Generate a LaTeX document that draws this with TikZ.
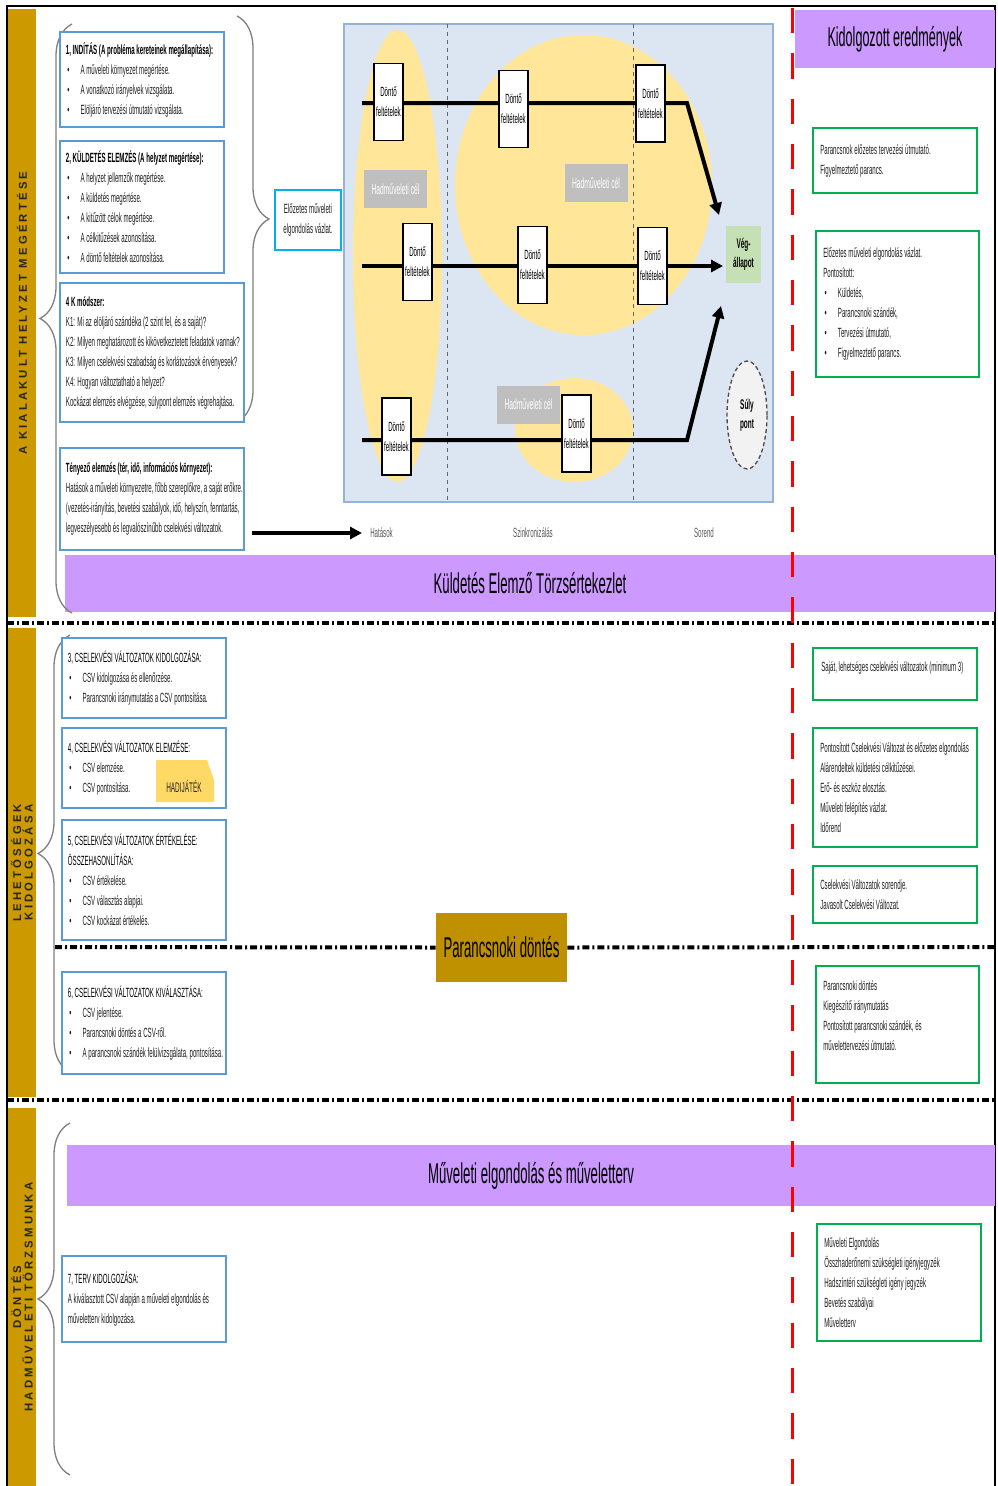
\documentclass[tikz,border=0pt]{standalone}
\usepackage{fontspec}
\setmainfont{Liberation Sans}
\newfontfamily\narrow[FakeStretch=0.46]{Liberation Sans}
\newfontfamily\barfont[LetterSpace=28]{Liberation Sans}
\usetikzlibrary{arrows.meta,shapes.geometric,decorations.pathreplacing}

\definecolor{barGold}{RGB}{204,153,0}
\definecolor{cmdGold}{RGB}{191,144,0}
\definecolor{bandLilac}{RGB}{204,153,255}
\definecolor{boxBlue}{RGB}{91,155,213}
\definecolor{boxGreen}{RGB}{0,176,80}
\definecolor{panelBlue}{RGB}{220,230,242}
\definecolor{panelEdge}{RGB}{149,179,215}
\definecolor{softYellow}{RGB}{255,230,153}
\definecolor{gameYellow}{RGB}{255,217,102}
\definecolor{endGreen}{RGB}{197,224,180}
\definecolor{aimGray}{RGB}{191,191,191}
\definecolor{draftCyan}{RGB}{0,176,240}

\newcommand{\bul}{\makebox[11pt][l]{\hspace{1pt}\textbullet}}

\begin{document}
\begin{tikzpicture}[x=0.75pt,y=0.75pt,yscale=-1,xscale=1,
  body/.style={font=\narrow\fontsize{10}{15}\selectfont, text=black!88, align=left, inner sep=0pt},
  leftbox/.style={draw=boxBlue, line width=1.5pt, fill=white, inner sep=0pt},
  rightbox/.style={draw=boxGreen, line width=1.5pt, fill=white, inner sep=0pt},
  band/.style={fill=bandLilac, inner sep=0pt, font=\narrow\fontsize{21.5}{25}\selectfont},
  sidebar/.style={fill=barGold, rotate=90, inner sep=0pt, align=center, text=black!85, font=\barfont\bfseries\fontsize{8.5}{7}\selectfont},
  sepline/.style={line width=3pt, dash pattern=on 5.25pt off 2.25pt on 1.5pt off 2.25pt},
  curly/.style={draw=black!50, line width=1pt, decorate, decoration={brace, amplitude=24pt}},
  zone/.style={ellipse, fill=softYellow, inner sep=0pt},
  aim/.style={fill=aimGray, minimum width=47.25pt, minimum height=28.5pt, inner sep=0pt, text=white, font=\narrow\fontsize{11}{12}\selectfont},
  donto/.style={draw, fill=white, line width=1.2pt, minimum width=21.75pt, minimum height=57.75pt, inner sep=0pt, align=center, font=\narrow\fontsize{10}{15}\selectfont},
  flow/.style={line width=3pt, -{Triangle[length=9pt,width=9pt]}},
  legend/.style={font=\narrow\fontsize{10}{12}\selectfont, text=black!65, inner sep=0pt}
]
\useasboundingbox (0,0) rectangle (997,1486);

%Shape: Side bars
\node[sidebar, minimum width=456pt, minimum height=21pt] (barSituation) at (22,313) {A KIALAKULT HELYZET MEGÉRTÉSE};
\node[sidebar, minimum width=351.75pt, minimum height=21pt] (barOptions) at (22,862.5) {LEHETŐSÉGEK\\KIDOLGOZÁSA};
\node[sidebar, minimum width=283.5pt, minimum height=21pt] (barDecision) at (22,1297) {DÖNTÉS\\HADMŰVELETI TÖRZSMUNKA};

%Straight Lines: frame
\draw[line width=1.5pt] (7,1486) -- (7,6) -- (995,6) -- (995,1486);

%Shape: Lilac bands
\node[band, minimum width=150pt, minimum height=43.5pt, font=\narrow\fontsize{20.5}{24}\selectfont] (results) at (895,39) {Kidolgozott eredmények};
\node[band, minimum width=697.5pt, minimum height=42.75pt] (meeting) at (530,583.5) {Küldetés Elemző Törzsértekezlet};
\node[band, minimum width=696pt, minimum height=45.75pt] (concept) at (531,1175.5) {Műveleti elgondolás és műveletterv};

%Shape: Panel
\node[draw=panelEdge, fill=panelBlue, line width=1.2pt, minimum width=321.75pt, minimum height=358.5pt, inner sep=0pt] (panel) at (558.5,263) {};
\node[zone, minimum width=66.75pt, minimum height=339pt] (zoneA) at (397.5,256) {};
\node[zone, minimum width=192.75pt, minimum height=225pt] (zoneB) at (583.5,185) {};
\node[zone, minimum width=88.5pt, minimum height=78pt] (zoneC) at (574,430) {};
\draw[black!60, dashed, line width=0.6pt] (447,24) -- (447,502);
\draw[black!60, dashed, line width=0.6pt] (633,24) -- (633,502);

% Text Node
\node[aim] (aimA) at (395.5,189) {Hadműveleti cél};
\node[aim] (aimB) at (596,183) {Hadműveleti cél};
\node[aim] (aimC) at (528.5,404.5) {Hadműveleti cél};

\node[fill=endGreen, minimum width=26.25pt, minimum height=42.75pt, inner sep=0pt, align=center, font=\narrow\bfseries\fontsize{10.5}{14}\selectfont] (endState) at (743.5,254.5) {Vég-\\állapot};

%Straight Lines
\coordinate (rowAs) at (362,103);
\coordinate (rowAk) at (687,103);
\coordinate (rowAe) at (719,215);
\coordinate (rowBs) at (362,266);
\coordinate (rowBe) at (723,266);
\coordinate (rowCs) at (362,440);
\coordinate (rowCk) at (687,440);
\coordinate (rowCe) at (721,306);
\draw[flow] (rowAs) -- (rowAk) -- (rowAe);
\draw[flow] (rowBs) -- (rowBe);
\draw[flow] (rowCs) -- (rowCk) -- (rowCe);

% Text Node
\node[donto] (dc11) at (388.5,102) {Döntő\\feltételek};
\node[donto] (dc12) at (513.5,109) {Döntő\\feltételek};
\node[donto] (dc13) at (650.5,103.5) {Döntő\\feltételek};
\node[donto] (dc21) at (417.5,262) {Döntő\\feltételek};
\node[donto] (dc22) at (532.5,265) {Döntő\\feltételek};
\node[donto] (dc23) at (652.5,266) {Döntő\\feltételek};
\node[donto] (dc31) at (396.5,436.5) {Döntő\\feltételek};
\node[donto] (dc32) at (576.5,433.5) {Döntő\\feltételek};

\node[ellipse, draw=black!70, densely dashed, line width=1pt, fill=black!5, minimum width=30pt, minimum height=81pt, inner sep=0pt, align=center, font=\narrow\bfseries\fontsize{10.5}{14}\selectfont] (weight) at (747,415) {Súly\\pont};

%Legend
\coordinate (legStart) at (252,533);
\node[legend, anchor=west] (effects) at (370,533) {Hatások};
\node[legend] (sync) at (533,533) {Szinkronizálás};
\node[legend] (order) at (704,533) {Sorend};
\draw[flow] (legStart) -- ([xshift=-6pt]effects.west);

%Shape: Draft box
\node[draw=draftCyan, line width=1.2pt, fill=white, minimum width=49.5pt, minimum height=45pt, inner sep=0pt, body, align=center] (draft) at (308,220) {Előzetes műveleti\\elgondolás vázlat.};

%Braces
\draw[curly] (72,613) -- (72,24);
\draw[curly] (237,16) -- (237,422);
\draw[curly] (70,1072) -- (70,635);
\draw[curly] (70,1475) -- (70,1123);

%Shape: Left boxes
\node[leftbox, minimum width=123pt, minimum height=71.25pt] (boxStart) at (142,79.5) {};
\node[body, anchor=west] (boxStartText) at ([xshift=5pt]boxStart.west) {\textcolor{black}{\textbf{1, INDÍTÁS (A probléma kereteinek megállapítása):}}\\
\bul A műveleti környezet megértése.\\
\bul A vonatkozó irányelvek vizsgálata.\\
\bul Elöljáró tervezési útmutató vizsgálata.};

\node[leftbox, minimum width=123pt, minimum height=99pt] (boxMission) at (142,207) {};
\node[body, anchor=west] (boxMissionText) at ([xshift=5pt]boxMission.west) {\textcolor{black}{\textbf{2, KÜLDETÉS ELEMZÉS (A helyzet megértése):}}\\
\bul A helyzet jellemzők megértése.\\
\bul A küldetés megértése.\\
\bul A kitűzött célok megértése.\\
\bul A célkitűzések azonosítása.\\
\bul A döntő feltételek azonosítása.};

\node[leftbox, minimum width=138pt, minimum height=104.25pt] (boxFourK) at (152,352.5) {};
\node[body, anchor=west] (boxFourKText) at ([xshift=5pt]boxFourK.west) {\textcolor{black}{\textbf{4 K módszer:}}\\
K1: Mi az elöljáró szándéka (2 szint fel, és a saját)?\\
K2: Milyen meghatározott és kikövetkeztetett feladatok vannak?\\
K3: Milyen cselekvési szabadság és korlátozások érvényesek?\\
K4: Hogyan változtatható a helyzet?\\
Kockázat elemzés elvégzése, súlypont elemzés végrehajtása.};

\node[leftbox, minimum width=138pt, minimum height=76.5pt] (boxFactor) at (152,499) {};
\node[body, anchor=west] (boxFactorText) at ([xshift=5pt]boxFactor.west) {\textcolor{black}{\textbf{Tényező elemzés (tér, idő, információs környezet):}}\\
Hatások a műveleti környezetre, főbb szereplőkre, a saját erőkre.\\
(vezetés-irányítás, bevetési szabályok, idő, helyszín, fenntartás,\\
legveszélyesebb és legvalószínűbb cselekvési változatok.};

\node[leftbox, minimum width=123pt, minimum height=60pt] (boxDevelop) at (144,678) {};
\node[body, anchor=west] (boxDevelopText) at ([xshift=5pt]boxDevelop.west) {\textcolor{black}{3, CSELEKVÉSI VÁLTOZATOK KIDOLGOZÁSA:}\\
\bul CSV kidolgozása és ellenőrzése.\\
\bul Parancsnoki iránymutatás a CSV pontosítása.};

\node[leftbox, minimum width=123pt, minimum height=60pt] (boxAnalyse) at (144,768) {};
\node[body, anchor=west] (boxAnalyseText) at ([xshift=5pt]boxAnalyse.west) {\textcolor{black}{4, CSELEKVÉSI VÁLTOZATOK ELEMZÉSE:}\\
\bul CSV elemzése.\\
\bul CSV pontosítása.};
\fill[gameYellow] (156,760) -- (207,760) -- (214,780) -- (214,802) -- (156,802) -- cycle;
\node[body, text=black!85, font=\narrow\fontsize{10.5}{12}\selectfont] (wargame) at (184,786) {HADIJÁTÉK};

\node[leftbox, minimum width=123pt, minimum height=90pt] (boxCompare) at (144,880) {};
\node[body, anchor=west] (boxCompareText) at ([xshift=5pt]boxCompare.west) {\textcolor{black}{5, CSELEKVÉSI VÁLTOZATOK ÉRTÉKELÉSE:}\\
\textcolor{black}{ÖSSZEHASONLÍTÁSA:}\\
\bul CSV értékelése.\\
\bul CSV választás alapjai.\\
\bul CSV kockázat értékelés.};

\node[leftbox, minimum width=123pt, minimum height=76.5pt] (boxSelect) at (144,1023) {};
\node[body, anchor=west] (boxSelectText) at ([xshift=5pt]boxSelect.west) {\textcolor{black}{6, CSELEKVÉSI VÁLTOZATOK KIVÁLASZTÁSA:}\\
\bul CSV jelentése.\\
\bul Parancsnoki döntés a CSV-ről.\\
\bul A parancsnoki szándék felülvizsgálata, pontosítása.};

\node[leftbox, minimum width=123pt, minimum height=64.5pt] (boxPlan) at (144,1299) {};
\node[body, anchor=west] (boxPlanText) at ([xshift=5pt]boxPlan.west) {\textcolor{black}{7, TERV KIDOLGOZÁSA:}\\
A kiválasztott CSV alapján a műveleti elgondolás és\\
műveletterv kidolgozása.};

%Shape: Right boxes
\node[rightbox, minimum width=123pt, minimum height=48.75pt] (outGuidance) at (895,160.5) {};
\node[body, anchor=west] (outGuidanceText) at ([xshift=6pt]outGuidance.west) {Parancsnok előzetes tervezési útmutató.\\
Figyelmeztető parancs.};

\node[rightbox, minimum width=122.25pt, minimum height=109.5pt] (outDraft) at (897.5,304) {};
\node[body, anchor=west] (outDraftText) at ([xshift=6pt]outDraft.west) {Előzetes műveleti elgondolás vázlat.\\
Pontosított:\\
\bul Küldetés,\\
\bul Parancsnoki szándék,\\
\bul Tervezési útmutató,\\
\bul Figyelmeztető parancs.};

\node[rightbox, minimum width=123pt, minimum height=39pt] (outOptions) at (895,674) {};
\node[body, anchor=west] (outOptionsText) at (821,668) {Saját, lehetséges cselekvési változatok (minimum 3)};

\node[rightbox, minimum width=123pt, minimum height=89.25pt] (outRefined) at (895,787.5) {};
\node[body, anchor=west] (outRefinedText) at ([xshift=6pt]outRefined.west) {Pontosított Cselekvési Változat és előzetes elgondolás\\
Alárendeltek küldetési célkitűzései.\\
Erő- és eszköz elosztás.\\
Műveleti felépítés vázlat.\\
Időrend};

\node[rightbox, minimum width=123pt, minimum height=42.75pt] (outRanking) at (895,894.5) {};
\node[body, anchor=west] (outRankingText) at ([xshift=6pt]outRanking.west) {Cselekvési Változatok sorendje.\\
Javasolt Cselekvési Változat.};

\node[rightbox, minimum width=122.25pt, minimum height=87.75pt] (outDecision) at (897.5,1024.5) {};
\node[body, anchor=west] (outDecisionText) at (823,1016) {Parancsnoki döntés\\
Kiegészítő iránymutatás\\
Pontosított parancsnoki szándék, és\\
művelettervezési útmutató.};

\node[rightbox, minimum width=123pt, minimum height=87.75pt] (outPlan) at (899,1282.5) {};
\node[body, anchor=west] (outPlanText) at ([xshift=6pt]outPlan.west) {Műveleti Elgondolás\\
Összhaderőnemi szükségleti igényjegyzék\\
Hadszíntéri szükségleti igény jegyzék\\
Bevetés szabályai\\
Műveletterv};

%Straight Lines: separators
\node[fill=cmdGold, minimum width=98.25pt, minimum height=51.75pt, inner sep=0pt, font=\narrow\fontsize{21.5}{25}\selectfont] (command) at (501.5,947.5) {Parancsnoki döntés};
\draw[sepline] (7,623) -- (995,623);
\draw[sepline] (55,947) -- (command.west);
\draw[sepline] (command.east) -- (995,947);
\draw[sepline] (7,1100) -- (995,1100);

%Straight Lines: red divider
\draw[red, line width=2.25pt, dash pattern=on 19pt off 15pt] (792,8) -- (792,1486);

\end{tikzpicture}
\end{document}
